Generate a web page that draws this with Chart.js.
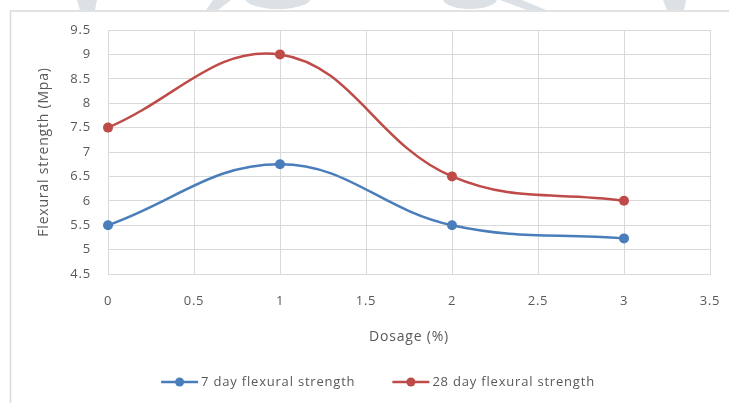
<!DOCTYPE html>
<html>
<head>
<meta charset="utf-8">
<script src="https://cdn.jsdelivr.net/npm/chart.js@4.4.1/dist/chart.umd.min.js"></script>
<style>
  html, body { margin: 0; padding: 0; background: #fff; }
  #wrap { width: 729px; height: 403px; }
</style>
</head>
<body>
<div id="wrap"><canvas id="flexChart" width="729" height="403"></canvas></div>
<script>
// dosage (%) against flexural strength
const dosage = [0, 1, 2, 3];
const flexural7 = [5.5, 6.75, 5.5, 5.23];
const flexural28 = [7.5, 9.0, 6.5, 6.0];
const seriesNames = ["7 day flexural strength", "28 day flexural strength"];
const seriesColors = ["#4a7ebb", "#be4b48"];
const xTickLabels = ["0", "0.5", "1", "1.5", "2", "2.5", "3", "3.5"];
const yTickLabels = ["4.5", "5", "5.5", "6", "6.5", "7", "7.5", "8", "8.5", "9", "9.5"];

const textColor = "#595959";
const gridColor = "#d9d9d9";
const fontFamily = "'Open Sans', sans-serif";
const spacing = "0.8px";

function toPoints(xs, ys) {
  return xs.map((x, i) => ({ x: x, y: ys[i] }));
}

// faint shapes along the top edge and the outer frame
const backdrop = {
  id: "backdrop",
  beforeUpdate(chart) {
    chart.ctx.letterSpacing = spacing;
  },
  beforeDraw(chart) {
    const ctx = chart.ctx;
    ctx.save();
    ctx.fillStyle = "#fff";
    ctx.fillRect(0, 0, chart.width, chart.height);
    ctx.fillStyle = "#dce1e5";
    const polys = [
      [[77, 0], [97, 0], [95, 10], [80, 10]],
      [[213, 0], [231, 0], [218, 10], [206, 10]],
      [[500, 0], [522, 0], [546, 10], [527, 10]],
      [[663, 0], [686, 0], [684, 10], [667, 10]]
    ];
    polys.forEach(p => {
      ctx.beginPath();
      ctx.moveTo(p[0][0], p[0][1]);
      p.slice(1).forEach(q => ctx.lineTo(q[0], q[1]));
      ctx.closePath();
      ctx.fill();
    });
    ctx.beginPath();
    ctx.ellipse(278, -2, 33, 11, 0, 0, Math.PI * 2);
    ctx.fill();
    ctx.beginPath();
    ctx.ellipse(470, -1, 27, 10, 0, 0, Math.PI * 2);
    ctx.fill();
    ctx.strokeStyle = "#d9d9d9";
    ctx.lineWidth = 1.5;
    ctx.strokeRect(10.5, 11, chart.width + 20, chart.height + 20);
    ctx.restore();
    ctx.letterSpacing = spacing;
  },
  afterDraw(chart) {
    // legend: line with marker, then the series name
    const ctx = chart.ctx;
    ctx.save();
    ctx.letterSpacing = spacing;
    ctx.font = "13px " + fontFamily;
    ctx.textBaseline = "middle";
    const lineLen = 37, gapText = 3, gapItem = 37, y = 382;
    const widths = chart.data.datasets.map(ds => ctx.measureText(ds.label).width);
    let total = 0;
    widths.forEach((w, i) => { total += lineLen + gapText + w + (i > 0 ? gapItem : 0); });
    let x = 378 - total / 2;
    chart.data.datasets.forEach((ds, i) => {
      ctx.strokeStyle = ds.borderColor;
      ctx.lineWidth = 2.5;
      ctx.beginPath();
      ctx.moveTo(x, y);
      ctx.lineTo(x + lineLen, y);
      ctx.stroke();
      ctx.fillStyle = ds.borderColor;
      ctx.beginPath();
      ctx.arc(x + lineLen / 2, y, 4.5, 0, Math.PI * 2);
      ctx.fill();
      ctx.fillStyle = textColor;
      ctx.fillText(ds.label, x + lineLen + gapText, y);
      x += lineLen + gapText + widths[i] + gapItem;
    });
    ctx.restore();
  }
};

const ctx = document.getElementById("flexChart").getContext("2d");

new Chart(ctx, {
  type: "line",
  data: {
    datasets: [
      {
        label: seriesNames[0],
        data: toPoints(dosage, flexural7),
        borderColor: seriesColors[0],
        backgroundColor: seriesColors[0],
        pointBackgroundColor: seriesColors[0],
        borderWidth: 2.5,
        pointRadius: 5,
        pointBorderWidth: 0,
        tension: 0.4,
        clip: false
      },
      {
        label: seriesNames[1],
        data: toPoints(dosage, flexural28),
        borderColor: seriesColors[1],
        backgroundColor: seriesColors[1],
        pointBackgroundColor: seriesColors[1],
        borderWidth: 2.5,
        pointRadius: 5,
        pointBorderWidth: 0,
        tension: 0.4,
        clip: false
      }
    ]
  },
  options: {
    responsive: false,
    animation: false,
    devicePixelRatio: 1,
    layout: { padding: { top: 30, right: 19, bottom: 0, left: 0 } },
    plugins: {
      legend: { display: false },
      tooltip: { enabled: false }
    },
    scales: {
      x: {
        type: "linear",
        min: 0,
        max: 3.5,
        afterFit(scale) { scale.height = 129; },
        ticks: {
          stepSize: 0.5,
          padding: 0,
          color: textColor,
          font: { family: fontFamily, size: 13 },
          maxRotation: 0,
          callback: (v, i) => xTickLabels[i]
        },
        // invisible tick marks keep the labels clear of the axis
        grid: { color: gridColor, lineWidth: 1, drawTicks: true, tickLength: 19, tickColor: "rgba(0,0,0,0)" },
        border: { color: gridColor },
        title: {
          display: true,
          text: "Dosage (%)",
          color: textColor,
          font: { family: fontFamily, size: 14 },
          padding: { top: 0, bottom: 58 }
        }
      },
      y: {
        min: 4.5,
        max: 9.5,
        afterFit(scale) { scale.width = 108; },
        ticks: {
          stepSize: 0.5,
          padding: 0,
          color: textColor,
          font: { family: fontFamily, size: 13 },
          callback: (v, i) => yTickLabels[i]
        },
        grid: { color: gridColor, lineWidth: 1, drawTicks: true, tickLength: 17, tickColor: "rgba(0,0,0,0)" },
        border: { color: gridColor },
        title: {
          display: true,
          text: "Flexural strength (Mpa)",
          color: textColor,
          font: { family: fontFamily, size: 14 },
          padding: { top: 36, bottom: 0 }
        }
      }
    }
  },
  plugins: [backdrop]
});
</script>
</body>
</html>
